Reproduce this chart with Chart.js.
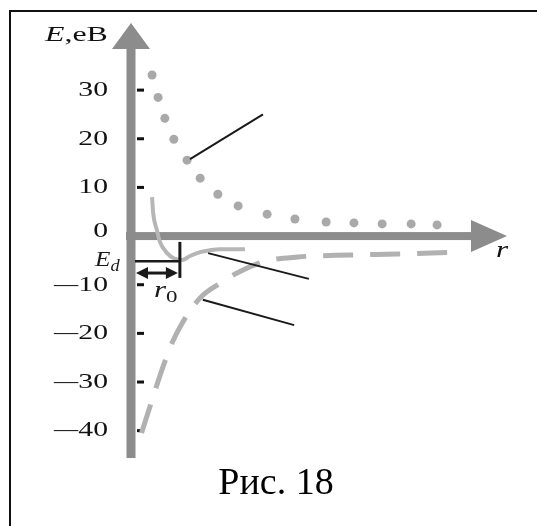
<!DOCTYPE html>
<html lang="ru">
  <head>
    <meta charset="UTF-8" />
    <title>Рис. 18</title>
    <style>
      body { margin: 0; background: #fff; }
      canvas { display: block; }
    </style>
  </head>
  <body>
    <canvas id="chart" width="537" height="526"></canvas>
    <script src="https://cdn.jsdelivr.net/npm/chart.js"></script>
    <script>
      // repulsive energy (dotted)
      const repR = [0.56, 0.72, 0.90, 1.14, 1.49, 1.84, 2.31, 2.85, 3.62, 4.36, 5.19, 5.93, 6.68, 7.45, 8.14];
      const repE = [33.1, 28.5, 24.2, 19.9, 15.6, 11.9, 8.6, 6.2, 4.5, 3.5, 2.9, 2.7, 2.5, 2.5, 2.3];
      // attractive energy (dashed)
      const attR = [0.28, 0.56, 0.85, 1.09, 1.36, 1.84, 2.37, 2.82, 3.51, 4.44, 5.80, 7.10, 8.40, 8.83];
      const attE = [-40.5, -33.7, -26.9, -22.0, -17.9, -12.7, -9.7, -7.6, -5.3, -4.3, -3.9, -3.7, -3.4, -3.3];
      // total energy (solid)
      const totR = [0.56, 0.59, 0.69, 0.77, 0.96, 1.17, 1.36, 1.57, 1.84, 2.10, 2.37, 3.03];
      const totE = [8.0, 4.7, 1.2, -1.2, -3.5, -4.7, -4.9, -4.1, -3.3, -2.9, -2.7, -2.7];

      const yTickValues = [30, 20, 10, 0, -10, -20, -30, -40];
      const yTickLabels = ['30', '20', '10', '0', '—10', '—20', '—30', '—40'];

      const Ed = -5.2;
      const r0 = 1.30;
      // leader lines from the curves, in data units
      const leaderLines = [
        [[1.57, 15.8], [3.51, 25.0]],
        [[2.05, -3.5], [4.73, -8.8]],
        [[1.91, -13.1], [4.34, -18.3]]
      ];

      const axisGray = '#8c8c8c';
      const serif = '"Liberation Serif", "Times New Roman", serif';
      const stretch = 1.35;

      function pts(xs, ys) {
        return xs.map(function (x, i) { return { x: x, y: ys[i] }; });
      }

      // draws runs of text one after another, stretched horizontally like the scan
      function drawRuns(ctx, x, y, runs, sx) {
        ctx.save();
        ctx.translate(x, y);
        ctx.scale(sx, 1);
        ctx.textBaseline = 'alphabetic';
        ctx.textAlign = 'left';
        let cx = 0;
        for (let run of runs) {
          ctx.font = run.font;
          ctx.fillText(run.text, cx, run.dy || 0);
          cx += ctx.measureText(run.text).width;
        }
        ctx.restore();
      }

      function arrowHead(ctx, tipX, tipY, dirX, dirY, len, half) {
        const bx = tipX - dirX * len, by = tipY - dirY * len;
        ctx.beginPath();
        ctx.moveTo(tipX, tipY);
        ctx.lineTo(bx - dirY * half, by + dirX * half);
        ctx.lineTo(bx + dirY * half, by - dirX * half);
        ctx.closePath();
        ctx.fill();
      }

      const axesPlugin = {
        id: 'axesPlugin',
        beforeDatasetsDraw(chart) {
          const ctx = chart.ctx;
          const xs = chart.scales.x, ys = chart.scales.y;
          const ax = xs.getPixelForValue(0);
          const ay = ys.getPixelForValue(0);
          const top = chart.chartArea.top;
          const right = chart.chartArea.right;

          // frame of the figure
          ctx.save();
          ctx.fillStyle = '#111';
          ctx.fillRect(9, 10, 537 - 9, 2);
          ctx.fillRect(9, 10, 2, 526 - 10);

          // thick gray axes
          ctx.fillStyle = axisGray;
          ctx.fillRect(ax - 4.5, top + 22, 9, chart.chartArea.bottom + 3 - top - 22);
          arrowHead(ctx, ax, top + 1, 0, -1, 26, 19);
          ctx.fillRect(ax - 5, ay - 4, right - 32 - ax + 5, 8);
          arrowHead(ctx, right, ay, 1, 0, 36, 16);

          // tick marks and labels
          ctx.fillStyle = '#111';
          ctx.font = '22px ' + serif;
          ctx.textAlign = 'right';
          ctx.textBaseline = 'middle';
          yTickValues.forEach(function (v, i) {
            const py = ys.getPixelForValue(v);
            if (v !== 0) ctx.fillRect(ax + 6, py - 1.5, 7, 3);
            let label = yTickLabels[i];
            let prefix = '';
            if (label.charAt(0) === '—') {
              prefix = '—';
              label = label.slice(1);
            }
            const lx = ax - 23;
            const ly = v === 0 ? py - 5 : py;
            ctx.save();
            ctx.translate(lx, ly);
            ctx.scale(stretch, 1);
            ctx.fillText(label, 0, 0);
            const w = ctx.measureText(label).width * stretch;
            ctx.restore();
            if (prefix) {
              ctx.save();
              ctx.translate(lx - w, ly);
              ctx.scale(1.1, 1);
              ctx.fillText(prefix, 0, 0);
              ctx.restore();
            }
          });

          // axis titles
          drawRuns(ctx, 45, 41, [
            { text: 'E', font: 'italic 22px ' + serif },
            { text: ',eB', font: '22px ' + serif }
          ], 1.45);
          drawRuns(ctx, 496, ys.getPixelForValue(0) + 21, [
            { text: 'r', font: 'italic 23px ' + serif }
          ], stretch);
          ctx.restore();
        },
        afterDatasetsDraw(chart) {
          const ctx = chart.ctx;
          const xs = chart.scales.x, ys = chart.scales.y;
          const ax = xs.getPixelForValue(0);
          ctx.save();
          ctx.strokeStyle = '#1a1a1a';
          ctx.fillStyle = '#1a1a1a';
          ctx.lineWidth = 2;
          for (let seg of leaderLines) {
            ctx.beginPath();
            ctx.moveTo(xs.getPixelForValue(seg[0][0]), ys.getPixelForValue(seg[0][1]));
            ctx.lineTo(xs.getPixelForValue(seg[1][0]), ys.getPixelForValue(seg[1][1]));
            ctx.stroke();
          }

          // E_d level and r_0 marker
          const rx = xs.getPixelForValue(r0);
          const ey = ys.getPixelForValue(Ed);
          ctx.lineWidth = 2.5;
          ctx.beginPath();
          ctx.moveTo(ax + 4, ey);
          ctx.lineTo(rx, ey);
          ctx.stroke();
          ctx.lineWidth = 3;
          ctx.beginPath();
          ctx.moveTo(rx, ys.getPixelForValue(-1.2));
          ctx.lineTo(rx, ys.getPixelForValue(-8.6));
          ctx.stroke();

          const dy = ys.getPixelForValue(-7.6);
          ctx.lineWidth = 3;
          ctx.beginPath();
          ctx.moveTo(ax + 10, dy);
          ctx.lineTo(rx - 8, dy);
          ctx.stroke();
          arrowHead(ctx, ax + 5, dy, -1, 0, 12, 6);
          arrowHead(ctx, rx - 2, dy, 1, 0, 12, 6);

          drawRuns(ctx, 95, ey + 5, [
            { text: 'E', font: 'italic 22px ' + serif },
            { text: 'd', font: 'italic 16px ' + serif, dy: 5 }
          ], stretch * 0.85);
          drawRuns(ctx, 154, dy + 24, [
            { text: 'r', font: 'italic 23px ' + serif },
            { text: '0', font: '17px ' + serif, dy: 5 }
          ], stretch);

          // caption
          ctx.font = '38px ' + serif;
          ctx.textAlign = 'center';
          ctx.textBaseline = 'alphabetic';
          ctx.fillStyle = '#000';
          ctx.fillText('Рис. 18', 276, 494);
          ctx.restore();
        }
      };

      const config = {
        type: 'scatter',
        data: {
          datasets: [
            {
              label: 'repulsion',
              data: pts(repR, repE),
              showLine: false,
              pointRadius: 4.5,
              pointBackgroundColor: '#a9a9a9',
              pointBorderWidth: 0
            },
            {
              label: 'attraction',
              data: pts(attR, attE),
              showLine: true,
              borderColor: '#b1b1b1',
              borderWidth: 5,
              borderDash: [30, 17],
              cubicInterpolationMode: 'monotone',
              pointRadius: 0
            },
            {
              label: 'total',
              data: pts(totR, totE),
              showLine: true,
              borderColor: '#b6b6b6',
              borderWidth: 4,
              cubicInterpolationMode: 'monotone',
              pointRadius: 0
            }
          ]
        },
        options: {
          responsive: false,
          animation: false,
          devicePixelRatio: 1,
          layout: {
            autoPadding: false,
            padding: { left: 131, right: 30, top: 22, bottom: 71 }
          },
          plugins: {
            legend: { display: false },
            tooltip: { enabled: false }
          },
          scales: {
            x: { type: 'linear', min: 0, max: 10, display: false },
            y: { type: 'linear', min: -45, max: 44, display: false }
          }
        },
        plugins: [axesPlugin]
      };

      new Chart(document.getElementById('chart'), config);
    </script>
  </body>
</html>
